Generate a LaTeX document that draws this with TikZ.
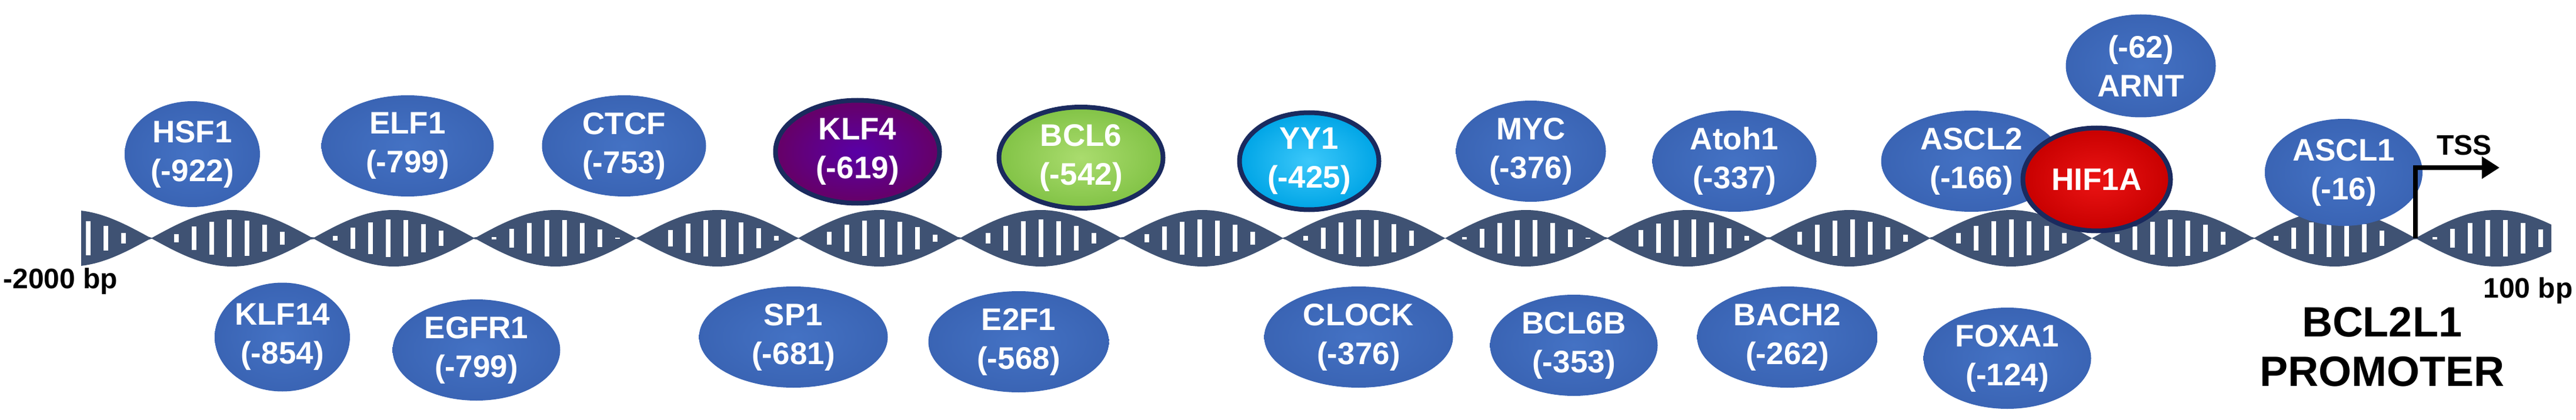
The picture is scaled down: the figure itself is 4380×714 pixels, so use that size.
\documentclass[tikz,border=0pt]{standalone}
\usepackage{fontspec}
\setmainfont{Liberation Sans}
\usetikzlibrary{shapes.geometric,arrows.meta}
\definecolor{dna}{HTML}{3F5273}
\definecolor{tfblue}{HTML}{4472C4}
\definecolor{tfrim}{HTML}{3A64B4}
\definecolor{navy}{HTML}{1A2A5E}
\begin{document}
\begin{tikzpicture}[x=1pt,y=-1pt,
  tf/.style={ellipse,inner sep=0pt,inner color=tfblue,outer color=tfrim,draw=none,
    text=white,align=center,font=\bfseries\fontsize{53}{66}\selectfont},
  hl/.style={tf,draw=navy,line width=8pt},
  lbl/.style={font=\bfseries\fontsize{48}{58}\selectfont,text=black},
  rung/.style={white,line width=8pt}]
\useasboundingbox (0,0) rectangle (4380,714);
% DNA helix
\fill[dna] plot[domain=138:4338,samples=700] (\x,{405-48*abs(sin((\x-257)/275*180))})
  -- plot[domain=4338:138,samples=700] (\x,{405+48*abs(sin((\x-257)/275*180))}) -- cycle;
\foreach \x in {150,180,...,4330}
  \draw[rung] (\x,{405-max(0,48*abs(sin((\x-257)/275*180))-16)}) -- (\x,{405+max(0,48*abs(sin((\x-257)/275*180))-16)});
% top row
\node[tf,minimum width=230pt,minimum height=180pt] (hsf1) at (327,262) {HSF1\\(-922)};
\node[tf,minimum width=293pt,minimum height=172pt] (elf1) at (693,248) {ELF1\\(-799)};
\node[tf,minimum width=279pt,minimum height=172pt] (ctcf) at (1061,248) {CTCF\\(-753)};
\node[hl,inner color=violet!70!blue,outer color=violet!80!black,minimum width=279pt,minimum height=175pt] (klf4) at (1458,258) {KLF4\\(-619)};
\node[hl,inner color={rgb,255:red,170;green,220;blue,110},outer color={rgb,255:red,130;green,195;blue,70},minimum width=279pt,minimum height=172pt] (bcl6) at (1838,268) {BCL6\\(-542)};
\node[hl,inner color={rgb,255:red,60;green,200;blue,250},outer color={rgb,255:red,0;green,165;blue,230},minimum width=237pt,minimum height=165pt] (yy1) at (2226,274) {YY1\\(-425)};
\node[tf,minimum width=255pt,minimum height=172pt] (myc) at (2603,257) {MYC\\(-376)};
\node[tf,minimum width=279pt,minimum height=172pt] (atoh1) at (2949,274) {Atoh1\\(-337)};
\node[tf,minimum width=307pt,minimum height=172pt] (ascl2) at (3352,274) {ASCL2\\(-166)};
\node[tf,minimum width=255pt,minimum height=175pt] (arnt) at (3640,112) {(-62)\\ARNT};
\node[hl,inner color={rgb,255:red,235;green,20;blue,20},outer color={rgb,255:red,200;green,0;blue,0},minimum width=251pt,minimum height=175pt] (hif1a) at (3565,305) {HIF1A};
\node[tf,minimum width=268pt,minimum height=182pt] (ascl1) at (3985,293) {ASCL1\\(-16)};
% bottom row
\node[tf,minimum width=230pt,minimum height=185pt] (klf14) at (480,573) {KLF14\\(-854)};
\node[tf,minimum width=285pt,minimum height=172pt] (egfr1) at (810,595) {EGFR1\\(-799)};
\node[tf,minimum width=321pt,minimum height=172pt] (sp1) at (1349,573) {SP1\\(-681)};
\node[tf,minimum width=307pt,minimum height=172pt] (e2f1) at (1732,581) {E2F1\\(-568)};
\node[tf,minimum width=321pt,minimum height=172pt] (clock) at (2310,573) {CLOCK\\(-376)};
\node[tf,minimum width=285pt,minimum height=172pt] (bcl6b) at (2676,587) {BCL6B\\(-353)};
\node[tf,minimum width=307pt,minimum height=172pt] (bach2) at (3039,573) {BACH2\\(-262)};
\node[tf,minimum width=285pt,minimum height=172pt] (foxa1) at (3413,609) {FOXA1\\(-124)};
% labels
\node[lbl,anchor=west] (start) at (2,478) {-2000 bp};
\node[lbl,anchor=east] (end) at (4378,494) {100 bp};
\node[lbl,align=center,font=\bfseries\fontsize{72}{84}\selectfont] (prom) at (4050,590) {BCL2L1\\PROMOTER};
\coordinate (tssbase) at (4107,405);
\coordinate (tsscorner) at (4107,285);
\coordinate (tsstip) at (4250,285);
\draw[line width=8pt,-{Triangle[length=30pt,width=36pt]}] (tssbase) -- (tsscorner) -- (tsstip);
\node[lbl,anchor=south] (tss) at (4190,268) {TSS};
\end{tikzpicture}
\end{document}
